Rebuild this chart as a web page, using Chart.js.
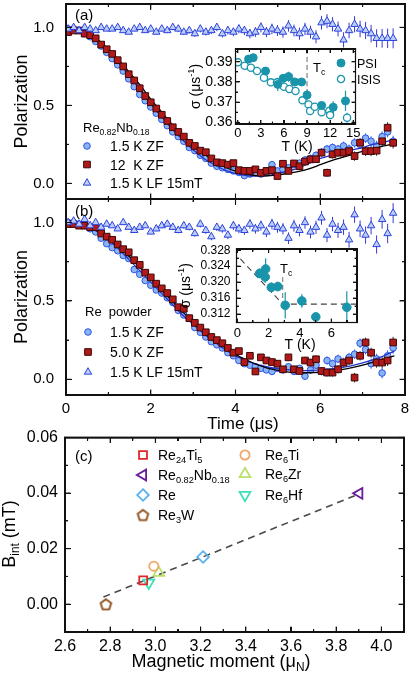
<!DOCTYPE html>
<html>
<head>
<meta charset="utf-8">
<script src="https://cdn.jsdelivr.net/npm/chart.js@4.4.1/dist/chart.umd.min.js"></script>
<style>
  body { margin: 0; background: #fff; width: 416px; height: 678px; position: relative; overflow: hidden; }
  canvas { position: absolute; }
  .fr { position: absolute; background: #111; z-index: 10; pointer-events: none; }
</style>
</head>
<body>
<canvas id="cA" width="416" height="200" style="left:0;top:0"></canvas>
<canvas id="cB" width="416" height="236" style="left:0;top:199px"></canvas>
<canvas id="cC" width="416" height="252" style="left:0;top:426px"></canvas>
<canvas id="cInA" width="225" height="109" style="left:170px;top:45px"></canvas>
<canvas id="cInB" width="190" height="108" style="left:170px;top:245px"></canvas>
<canvas id="frames" width="416" height="678" style="left:0;top:0;pointer-events:none"></canvas>
<script>
// ---- data ----
const timeBins = [0.05,0.18,0.31,0.44,0.57,0.70,0.83,0.96,1.09,1.22,
  1.35,1.48,1.61,1.74,1.87,2.00,2.13,2.26,2.39,2.52,
  2.65,2.78,2.91,3.04,3.17,3.30,3.43,3.56,3.69,3.82,
  3.95,4.08,4.21,4.34,4.47,4.60,4.73,4.86,4.99,5.12,
  5.25,5.38,5.51,5.64,5.77,5.90,6.03,6.16,6.29,6.42,
  6.55,6.68,6.81,6.94,7.07,7.20,7.33,7.46,7.59,7.72];

// panel (a) Re0.82Nb0.18
const polA_ZF15 = [0.99,0.99,0.98,0.96,0.94,0.91,0.88,0.84,0.80,0.76,
  0.72,0.67,0.62,0.57,0.53,0.49,0.45,0.41,0.37,0.33,
  0.30,0.27,0.23,0.21,0.18,0.16,0.13,0.11,0.10,0.09,
  0.08,0.07,0.05,0.06,0.07,0.06,0.08,0.12,0.08,0.09,
  0.10,0.12,0.13,0.15,0.16,0.18,0.20,0.22,0.23,0.22,
  0.24,0.22,0.26,0.25,0.29,0.27,0.24,0.30,0.33,0.27];
const polA_ZF12 = [0.97,0.98,0.98,0.96,0.95,0.93,0.89,0.86,0.83,0.79,
  0.75,0.70,0.66,0.61,0.56,0.52,0.48,0.44,0.40,0.36,
  0.33,0.30,0.26,0.24,0.21,0.20,0.16,0.135,0.13,0.12,
  0.13,0.085,0.08,0.08,0.09,0.068,0.08,0.085,0.047,0.126,
  0.08,0.128,0.11,0.14,0.154,0.155,0.197,0.068,0.186,0.197,
  0.197,0.207,0.175,0.261,0.207,0.207,0.21,0.27,0.357,0.26];
const polA_LF = [0.99,1.00,0.98,1.00,0.99,0.98,1.00,0.99,0.99,1.00,
  0.98,0.97,0.99,1.00,0.98,0.99,0.97,0.99,0.98,1.00,
  0.99,0.97,0.98,0.96,0.99,0.97,0.98,1.00,0.96,0.98,
  0.97,0.99,0.98,0.96,0.97,1.00,0.97,0.99,0.98,0.97,
  1.01,0.98,0.96,0.99,0.97,0.94,1.03,1.04,1.02,0.99,
  0.92,0.98,1.02,0.99,0.98,0.96,0.93,0.93,0.93,0.93];

// panel (b) Re powder
const polB_ZF15 = [1.00,1.00,0.99,0.98,0.96,0.94,0.90,0.865,0.84,0.82,
  0.79,0.77,0.70,0.67,0.63,0.60,0.57,0.55,0.52,0.49,
  0.44,0.41,0.39,0.33,0.30,0.27,0.24,0.22,0.20,0.17,
  0.15,0.12,0.10,0.09,0.08,0.07,0.06,0.05,0.07,0.06,
  0.08,0.05,0.07,0.02,0.06,0.09,0.05,0.12,0.10,0.13,
  0.11,0.14,0.16,0.23,0.19,0.10,0.13,0.04,0.15,0.20];
const polB_ZF5 = [0.99,0.99,0.98,0.98,0.97,0.97,0.93,0.91,0.89,0.86,
  0.83,0.81,0.76,0.73,0.68,0.65,0.61,0.58,0.55,0.51,
  0.46,0.45,0.39,0.36,0.33,0.30,0.27,0.25,0.23,0.20,
  0.17,0.18,0.11,0.15,0.05,0.14,0.12,0.11,0.10,0.064,
  0.14,0.064,0.053,0.12,0.107,0.128,0.053,0.043,0.043,0.064,
  0.107,0.12,0.011,0.15,0.235,0.17,0.107,0.107,0.12,0.235];
const polB_LF = [1.00,1.01,0.99,1.02,0.98,1.00,0.97,0.99,0.98,0.96,
  1.00,0.97,0.95,0.97,0.98,0.94,0.96,0.98,0.99,0.97,
  0.95,0.98,0.97,0.93,0.99,0.95,0.91,0.97,0.96,0.92,
  0.98,0.96,0.95,0.99,0.96,0.98,0.94,0.99,0.97,0.96,
  0.90,0.98,0.95,1.00,0.94,0.97,1.03,0.92,0.99,0.95,
  0.97,0.89,1.05,0.96,0.92,0.98,0.86,1.02,0.93,1.06];

const errZF = [0.006,0.006,0.006,0.006,0.006,0.007,0.007,0.007,0.008,0.008,
  0.008,0.009,0.009,0.009,0.010,0.010,0.010,0.011,0.011,0.011,
  0.012,0.012,0.012,0.013,0.013,0.014,0.014,0.015,0.015,0.016,
  0.016,0.017,0.017,0.018,0.018,0.019,0.019,0.020,0.020,0.021,
  0.021,0.022,0.022,0.023,0.024,0.024,0.025,0.026,0.026,0.027,
  0.028,0.029,0.030,0.030,0.031,0.032,0.033,0.034,0.035,0.036];
const errLF = [0.008,0.008,0.009,0.009,0.010,0.010,0.011,0.011,0.012,0.012,
  0.013,0.013,0.014,0.014,0.015,0.015,0.016,0.017,0.017,0.018,
  0.019,0.019,0.020,0.021,0.022,0.022,0.023,0.024,0.025,0.026,
  0.027,0.028,0.029,0.030,0.031,0.032,0.033,0.034,0.035,0.036,
  0.037,0.038,0.039,0.040,0.041,0.042,0.044,0.045,0.046,0.048,
  0.049,0.050,0.052,0.053,0.055,0.056,0.058,0.060,0.062,0.064];

// fit curves
const fitTime = [0,0.25,0.5,0.75,1,1.25,1.5,1.75,2,2.25,2.5,2.75,3,3.25,3.5,3.75,
  4,4.25,4.5,4.75,5,5.25,5.5,5.75,6,6.25,6.5,6.75,7,7.25,7.5,7.75];
const fitA_12K = [1.0,0.99,0.965,0.92,0.86,0.79,0.71,0.63,0.54,0.46,0.38,0.31,0.245,0.19,0.145,0.105,
  0.078,0.06,0.05,0.048,0.055,0.065,0.077,0.095,0.12,0.145,0.165,0.185,0.205,0.222,0.24,0.255];
const fitA_15K = [1.0,0.99,0.96,0.91,0.845,0.77,0.69,0.60,0.51,0.43,0.35,0.28,0.215,0.16,0.12,0.085,
  0.062,0.05,0.046,0.05,0.065,0.08,0.10,0.13,0.16,0.18,0.20,0.215,0.23,0.25,0.265,0.28];
const fitB_15K = [1.0,0.995,0.975,0.94,0.89,0.83,0.76,0.69,0.62,0.55,0.48,0.41,0.35,0.29,0.24,0.19,
  0.15,0.12,0.095,0.08,0.068,0.06,0.055,0.055,0.06,0.066,0.075,0.088,0.105,0.125,0.15,0.18];
const fitB_5K = [1.0,0.995,0.978,0.945,0.90,0.845,0.78,0.71,0.64,0.57,0.50,0.43,0.37,0.31,0.255,0.205,
  0.16,0.125,0.095,0.072,0.057,0.046,0.042,0.042,0.045,0.052,0.062,0.075,0.09,0.11,0.13,0.15];

// inset (a): sigma vs T
const psiT = [1.4,2.0,3.6,5.2,5.9,6.6,7.4,8.3,9.0,10.9,12.4,14.0];
const psiSigma = [0.3913,0.392,0.3854,0.3788,0.3818,0.3826,0.380,0.380,0.3735,0.3684,0.3675,0.3706];
const psiErr = [0.0015,0.0015,0.002,0.0033,0.002,0.0025,0.0015,0.0015,0.0025,0.0015,0.003,0.005];
const isisT = [0,0.9,1.7,2.5,3.4,4.3,5.1,6.0,6.7,7.5,8.4,9.2,9.4,10.0,10.9,11.9,12.0,14.2];
const isisSigma = [0.3897,0.388,0.387,0.3854,0.3821,0.3798,0.3798,0.3776,0.3765,0.3755,0.3709,
  0.3689,0.3656,0.3677,0.365,0.3657,0.3636,0.3623];
const isisErr = [0.0008,0.0008,0.0008,0.0008,0.001,0.001,0.001,0.001,0.001,0.001,0.001,
  0.0012,0.0012,0.0012,0.0015,0.0015,0.002,0.0025];
const tcLineA_T = [9, 9];
const tcLineA_S = [0.3963, 0.3755];

// inset (b)
const reT = [1.43,1.81,1.78,2.17,2.59,3.06,4.12,5.01,6.99];
const reSigma = [0.3222,0.3233,0.3213,0.3187,0.3189,0.3142,0.3153,0.3113,0.3137];
const reErr = [0.0012,0.0027,0.0015,0.0012,0.0012,0.0033,0.0017,0.001,0.004];
const guideB_T = [0.2, 2.9, 7.6];
const guideB_S = [0.3258, 0.3145, 0.3145];
const tcLineB_T = [2.9, 2.9];
const tcLineB_S = [0.3213, 0.3145];

// panel (c)
const compounds = ['Re24Ti5','Re0.82Nb0.18','Re','Re3W','Re6Ti','Re6Zr','Re6Hf'];
const moments = [2.946, 3.902, 3.211, 2.781, 2.993, 3.015, 2.971];
const bint = [0.0086, 0.0399, 0.0170, 0.0000, 0.0137, 0.0113, 0.0077];
const trendX = [2.77, 3.89];
const trendY = [0.0026, 0.0393];

// tick values
const timeTicks = [0,2,4,6,8], timeMinor = [1,3,5,7];
const polTicks = [0,0.5,1.0], polMinor = [0.25,0.75];
const tempTicksA = [0,3,6,9,12,15], tempMinorA = [1.5,4.5,7.5,10.5,13.5];
const sigTicksA = [0.36,0.37,0.38,0.39], sigMinorA = [0.365,0.375,0.385,0.395];
const tempTicksB = [0,2,4,6], tempMinorB = [1,3,5,7];
const sigTicksB = [0.312,0.316,0.320,0.324,0.328], sigMinorB = [0.314,0.318,0.322,0.326];
const momTicks = [2.6,2.8,3.0,3.2,3.4,3.6,3.8,4.0], momMinor = [2.7,2.9,3.1,3.3,3.5,3.7,3.9,4.1];
const bTicks = [0,0.02,0.04,0.06], bMinor = [-0.01,0.01,0.03,0.05];

// ---- helpers ----
const FONT = '"Liberation Sans", Arial, Helvetica, sans-serif';
Chart.defaults.font.family = FONT;
Chart.defaults.color = '#000';

const pts = (xs, ys) => xs.map((x, i) => ({x, y: ys[i]}));

function pentagon(color, r, lw) {
  const c = document.createElement('canvas');
  const s = Math.ceil(2 * r + lw + 2);
  c.width = s; c.height = s;
  const g = c.getContext('2d');
  g.translate(s / 2, s / 2 + 0.5);
  g.beginPath();
  for (let k = 0; k < 5; k++) {
    const a = -Math.PI / 2 + k * 2 * Math.PI / 5;
    k ? g.lineTo(r * Math.cos(a), r * Math.sin(a)) : g.moveTo(r * Math.cos(a), r * Math.sin(a));
  }
  g.closePath();
  g.lineWidth = lw; g.strokeStyle = color; g.stroke();
  return c;
}

function drawMarker(ctx, s, x, y) {
  const r = s.pointRadius, st = s.pointStyle;
  ctx.save();
  if (typeof st !== 'string') {
    ctx.drawImage(st, x - st.width / 2, y - st.height / 2);
    ctx.restore();
    return;
  }
  ctx.translate(x, y);
  ctx.rotate((s.pointRotation || 0) * Math.PI / 180);
  ctx.beginPath();
  if (st === 'circle') ctx.arc(0, 0, r, 0, 2 * Math.PI);
  else if (st === 'rect') { const h = r * Math.SQRT1_2; ctx.rect(-h, -h, 2 * h, 2 * h); }
  else if (st === 'rectRot') { ctx.moveTo(0, -r); ctx.lineTo(r, 0); ctx.lineTo(0, r); ctx.lineTo(-r, 0); ctx.closePath(); }
  else if (st === 'triangle') {
    for (let k = 0; k < 3; k++) {
      const a = k * 2 * Math.PI / 3;
      k ? ctx.lineTo(Math.sin(a) * r, -Math.cos(a) * r) : ctx.moveTo(Math.sin(a) * r, -Math.cos(a) * r);
    }
    ctx.closePath();
  }
  if (s.pointBackgroundColor && s.pointBackgroundColor !== 'transparent') {
    ctx.fillStyle = s.pointBackgroundColor; ctx.fill();
  }
  ctx.lineWidth = s.pointBorderWidth; ctx.strokeStyle = s.pointBorderColor; ctx.stroke();
  ctx.restore();
}

// text with sub (1) / superscript (2) pieces
function drawRich(ctx, t) {
  ctx.save();
  ctx.translate(t.x, t.y);
  if (t.rot) ctx.rotate(t.rot * Math.PI / 180);
  ctx.fillStyle = '#000';
  ctx.textBaseline = 'alphabetic';
  ctx.textAlign = 'left';
  const pieces = t.parts.map(([s, m]) => {
    const fs = m ? t.size * 0.66 : t.size;
    ctx.font = fs + 'px ' + FONT;
    return {s, m, fs, w: ctx.measureText(s).width};
  });
  const total = pieces.reduce((a, p) => a + p.w, 0);
  let cx = t.align === 'center' ? -total / 2 : 0;
  pieces.forEach(p => {
    ctx.font = p.fs + 'px ' + FONT;
    const dy = p.m === 1 ? t.size * 0.22 : p.m === 2 ? -t.size * 0.42 : 0;
    ctx.fillText(p.s, cx, dy);
    cx += p.w;
  });
  ctx.restore();
}

const decorCfg = {};
const decor = {
  id: 'decor',
  beforeDatasetsDraw(chart) {
    const o = decorCfg[chart.canvas.id];
    if (!o) return;
    const {ctx, chartArea: a} = chart;
    const xs = chart.scales.x, ys = chart.scales.y;
    ctx.save();
    if (o.white) {
      ctx.fillStyle = '#fff';
      ctx.fillRect(a.left, a.top, a.right - a.left, a.bottom - a.top);
    }
    ctx.beginPath();
    ctx.rect(a.left, a.top, a.right - a.left, a.bottom - a.top);
    ctx.clip();
    chart.data.datasets.forEach(ds => {
      if (!ds.err) return;
      ctx.strokeStyle = ds.errColor;
      ctx.lineWidth = ds.errWidth || 1;
      ds.data.forEach((p, j) => {
        const px = xs.getPixelForValue(p.x);
        ctx.beginPath();
        ctx.moveTo(px, ys.getPixelForValue(p.y - ds.err[j]));
        ctx.lineTo(px, ys.getPixelForValue(p.y + ds.err[j]));
        ctx.stroke();
      });
    });
    ctx.restore();
  },
  afterDraw(chart) {
    const o = decorCfg[chart.canvas.id];
    if (!o) return;
    const {ctx} = chart;
    ctx.save();
    (o.markers || []).forEach(m => drawMarker(ctx, m.st, m.x, m.y));
    (o.texts || []).forEach(tx => drawRich(ctx, tx));
    ctx.restore();
  }
};

// frame with inward ticks from each chart's scales
function frameRects(chart, offX, offY, o) {
  const xs = chart.scales.x, ys = chart.scales.y;
  const L = offX + xs.getPixelForValue(o.xr[0]), R = offX + xs.getPixelForValue(o.xr[1]);
  const T = offY + ys.getPixelForValue(o.yr[1]), B = offY + ys.getPixelForValue(o.yr[0]);
  const w = o.frameWidth, h = w / 2, tw = 1.1, th = tw / 2;
  const out = [
    [L - h, T - h, R - L + w, w], [L - h, B - h, R - L + w, w],
    [L - h, T - h, w, B - T + w], [R - h, T - h, w, B - T + w]
  ];
  const t = o.ticks;
  [[t.xMaj, o.tl[0]], [t.xMin, o.tl[1]]].forEach(([vals, len]) => vals.forEach(v => {
    const px = offX + xs.getPixelForValue(v);
    out.push([px - th, B - len, tw, len], [px - th, T, tw, len]);
  }));
  [[t.yMaj, o.tl[0]], [t.yMin, o.tl[1]]].forEach(([vals, len]) => vals.forEach(v => {
    const py = offY + ys.getPixelForValue(v);
    out.push([L, py - th, len, tw], [R - len, py - th, len, tw]);
  }));
  return out;
}

// outline of the plotting box as a Chart.js line through the axis limits
const boxDs = (xr, yr) => ({
  data: pts([xr[0], xr[1], xr[1], xr[0], xr[0]], [yr[0], yr[0], yr[1], yr[1], yr[0]]),
  showLine: true, borderColor: '#111', borderWidth: 1.4, pointRadius: 0,
  tension: 0, cubicInterpolationMode: 'default', clip: false, order: 0
});

// fixed axis box size, no extra label padding
const boxFit = f => ax => {
  f(ax);
  ax.paddingTop = 0; ax.paddingBottom = 0; ax.paddingLeft = 0; ax.paddingRight = 0;
};
const BORDER = {display: true, color: '#111', width: 1.4};
function linAxis(min, max, majors, digits, size, pad, fit, border) {
  return {
    type: 'linear', min, max,
    grid: {display: false, drawTicks: false}, border: border || {display: false},
    afterBuildTicks: ax => { ax.ticks = majors.map(v => ({value: v})); },
    afterFit: boxFit(fit),
    ticks: {font: {size}, color: '#000', padding: pad, autoSkip: false, maxRotation: 0,
      callback: v => v.toFixed(digits)}
  };
}
function edgeAxis(min, max, position, border) {
  const horiz = position === 'top' || position === 'bottom';
  return {type: 'linear', min, max, position, grid: {display: false, drawTicks: false},
    border: border || {display: false}, ticks: {display: false},
    afterFit: boxFit(ax => { if (horiz) ax.height = 0; else ax.width = 0; })};
}
function baseOptions(padding, scales) {
  return {
    responsive: false, animation: false, devicePixelRatio: 1, events: [],
    layout: {padding, autoPadding: false},
    plugins: {legend: {display: false}, tooltip: {enabled: false}},
    scales
  };
}

// marker styles
const stCircle = {pointStyle: 'circle', pointRadius: 3.3, pointBackgroundColor: '#8ab3f4', pointBorderColor: '#2b55e4', pointBorderWidth: 1};
const stSquare = {pointStyle: 'rect', pointRadius: 4.7, pointBackgroundColor: '#b21a1a', pointBorderColor: '#3d0606', pointBorderWidth: 1};
const stTri = {pointStyle: 'triangle', pointRadius: 4.3, pointBackgroundColor: '#bccdf7', pointBorderColor: '#2c43dc', pointBorderWidth: 1};
const TEAL = '#1994ab';
const stPSI = {pointStyle: 'circle', pointRadius: 4, pointBackgroundColor: TEAL, pointBorderColor: TEAL, pointBorderWidth: 1};
const stISIS = {pointStyle: 'circle', pointRadius: 3.6, pointBackgroundColor: '#fff', pointBorderColor: TEAL, pointBorderWidth: 1.3};
const stReB = {pointStyle: 'circle', pointRadius: 4.3, pointBackgroundColor: TEAL, pointBorderColor: TEAL, pointBorderWidth: 1};

const lineDs = (xs, ys, color, width, dash) => ({
  data: pts(xs, ys), showLine: true, borderColor: color, borderWidth: width,
  borderDash: dash || [], pointRadius: 0, cubicInterpolationMode: 'monotone', fill: false
});

function muonPanel(zf1, zf2, lf, fit1, fit2) {
  return [
    boxDs([0, 8], polRange),
    Object.assign({data: pts(timeBins, lf), err: errLF, errColor: '#3838d0', order: 1}, stTri),
    Object.assign({data: pts(timeBins, zf2), err: errZF, errColor: '#222', order: 2}, stSquare),
    Object.assign(lineDs(fitTime, fit1, '#000', 1.3), {order: 3}),
    Object.assign(lineDs(fitTime, fit2, '#2233cc', 1.3), {order: 3}),
    Object.assign({data: pts(timeBins, zf1), err: errZF, errColor: '#2e55e0', order: 4}, stCircle)
  ];
}

const frameList = [];
const polRange = [-0.1, 1.15];

// ---- panel (a) ----
decorCfg.cA = {
  markers: [{st: stCircle, x: 87, y: 146}, {st: stSquare, x: 87, y: 164.5}, {st: stTri, x: 87, y: 183}],
  texts: [
    {x: 75, y: 20, size: 15, parts: [['(a)', 0]]},
    {x: 83, y: 132, size: 13, parts: [['Re', 0], ['0.82', 1], ['Nb', 0], ['0.18', 1]]},
    {x: 110, y: 151, size: 14, parts: [['1.5 K ZF', 0]]},
    {x: 110, y: 169.5, size: 14, parts: [['12  K ZF', 0]]},
    {x: 110, y: 188, size: 14, parts: [['1.5 K LF 15mT', 0]]},
    {x: 26.5, y: 101.5, rot: -90, align: 'center', size: 18, parts: [['Polarization', 0]]}
  ]
};
const chartA = new Chart(document.getElementById('cA'), {
  type: 'scatter',
  data: {datasets: muonPanel(polA_ZF15, polA_ZF12, polA_LF, fitA_12K, fitA_15K)},
  options: baseOptions({top: 4, right: 11, bottom: 1, left: 0}, {
    x: edgeAxis(0, 8, 'bottom', BORDER),
    x2: edgeAxis(0, 8, 'top', BORDER),
    y: linAxis(polRange[0], polRange[1], polTicks, 1, 15, 12, ax => { ax.width = 66; }, BORDER),
    y2: edgeAxis(polRange[0], polRange[1], 'right', BORDER)
  }),
  plugins: [decor]
});
frameList.push({chart: chartA, x: 0, y: 0, o: {frameWidth: 1.4, tl: [5.5, 3], xr: [0, 8], yr: polRange,
  ticks: {xMaj: timeTicks, xMin: timeMinor, yMaj: polTicks, yMin: polMinor}}});

// ---- panel (b) ----
decorCfg.cB = {
  markers: [{st: stCircle, x: 88, y: 133}, {st: stSquare, x: 88, y: 153}, {st: stTri, x: 88, y: 173}],
  texts: [
    {x: 75, y: 16.5, size: 15, parts: [['(b)', 0]]},
    {x: 85, y: 117, size: 13, parts: [['Re  powder', 0]]},
    {x: 110, y: 138, size: 14, parts: [['1.5 K ZF', 0]]},
    {x: 110, y: 158, size: 14, parts: [['5.0 K ZF', 0]]},
    {x: 110, y: 178, size: 14, parts: [['1.5 K LF 15mT', 0]]},
    {x: 26.5, y: 98, rot: -90, align: 'center', size: 18, parts: [['Polarization', 0]]},
    {x: 243, y: 230, align: 'center', size: 17, parts: [['Time (μs)', 0]]}
  ]
};
const chartB = new Chart(document.getElementById('cB'), {
  type: 'scatter',
  data: {datasets: muonPanel(polB_ZF15, polB_ZF5, polB_LF, fitB_5K, fitB_15K)},
  options: baseOptions({top: 0, right: 11, bottom: 0, left: 0}, {
    x: linAxis(0, 8, timeTicks, 0, 15, 5, ax => { ax.height = 40; }, BORDER),
    x2: edgeAxis(0, 8, 'top', BORDER),
    y: linAxis(polRange[0], polRange[1], polTicks, 1, 15, 12, ax => { ax.width = 66; }, BORDER),
    y2: edgeAxis(polRange[0], polRange[1], 'right', BORDER)
  }),
  plugins: [decor]
});
frameList.push({chart: chartB, x: 0, y: 199, o: {frameWidth: 1.4, tl: [5.5, 3], xr: [0, 8], yr: polRange,
  ticks: {xMaj: timeTicks, xMin: timeMinor, yMaj: polTicks, yMin: polMinor}}});

// ---- panel (c) ----
const cStyles = [
  {pointStyle: 'rect', pointRadius: 5.6, pointBackgroundColor: 'transparent', pointBorderColor: '#e0282a', pointBorderWidth: 1.8},
  {pointStyle: 'triangle', pointRotation: -90, pointRadius: 6.2, pointBackgroundColor: 'transparent', pointBorderColor: '#6a1b9a', pointBorderWidth: 1.8},
  {pointStyle: 'rectRot', pointRadius: 5.8, pointBackgroundColor: 'transparent', pointBorderColor: '#5ab4ec', pointBorderWidth: 1.8},
  {pointStyle: pentagon('#8a4a12', 5.6, 1.8), pointRadius: 6, pointBackgroundColor: 'transparent', pointBorderColor: '#8a4a12', pointBorderWidth: 1.8},
  {pointStyle: 'circle', pointRadius: 4.6, pointBackgroundColor: 'transparent', pointBorderColor: '#f0a86a', pointBorderWidth: 1.8},
  {pointStyle: 'triangle', pointRadius: 6.2, pointBackgroundColor: 'transparent', pointBorderColor: '#b8e06a', pointBorderWidth: 1.8},
  {pointStyle: 'triangle', pointRotation: 180, pointRadius: 6.2, pointBackgroundColor: 'transparent', pointBorderColor: '#3fe0b8', pointBorderWidth: 1.8}
];
const cLegendParts = [
  [['Re', 0], ['24', 1], ['Ti', 0], ['5', 1]],
  [['Re', 0], ['0.82', 1], ['Nb', 0], ['0.18', 1]],
  [['Re', 0]],
  [['Re', 0], ['3', 1], ['W', 0]],
  [['Re', 0], ['6', 1], ['Ti', 0]],
  [['Re', 0], ['6', 1], ['Zr', 0]],
  [['Re', 0], ['6', 1], ['Hf', 0]]
];
const cLegendPos = [[143, 29], [143, 49], [143, 69], [143, 89], [245, 29], [245, 48], [245, 69]];
decorCfg.cC = {
  markers: cStyles.map((st, i) => ({st, x: cLegendPos[i][0], y: cLegendPos[i][1]})),
  texts: [
    {x: 75, y: 34.5, size: 15, parts: [['(c)', 0]]},
    ...cLegendParts.map((parts, i) => ({x: cLegendPos[i][0] + (i < 4 ? 15 : 20), y: cLegendPos[i][1] + 5, size: 14, parts})),
    {x: 15, y: 108, rot: -90, align: 'center', size: 18, parts: [['B', 0], ['int', 1], [' (mT)', 0]]},
    {x: 221, y: 241, align: 'center', size: 18, parts: [['Magnetic moment (μ', 0], ['N', 1], [')', 0]]}
  ]
};
const chartC = new Chart(document.getElementById('cC'), {
  type: 'scatter',
  data: {datasets: [
    boxDs([2.6, 4.1], [-0.01, 0.06]),
    ...compounds.map((name, i) => Object.assign({label: name, data: [{x: moments[i], y: bint[i]}], order: 1}, cStyles[i])),
    Object.assign(lineDs(trendX, trendY, '#4a4a4a', 1.6, [7, 5]), {order: 2})
  ]},
  options: baseOptions({top: 11.5, right: 12, bottom: 0, left: 0}, {
    x: linAxis(2.6, 4.1, momTicks, 1, 16, 5, ax => { ax.height = 46; }, BORDER),
    x2: edgeAxis(2.6, 4.1, 'top', BORDER),
    y: linAxis(-0.01, 0.06, bTicks, 2, 16, 7, ax => { ax.width = 65; }, BORDER),
    y2: edgeAxis(-0.01, 0.06, 'right', BORDER)
  }),
  plugins: [decor]
});
frameList.push({chart: chartC, x: 0, y: 426, o: {frameWidth: 1.4, tl: [5.5, 3], xr: [2.6, 4.1], yr: [-0.01, 0.06],
  ticks: {xMaj: momTicks, xMin: momMinor, yMaj: bTicks, yMin: bMinor}}});

// ---- inset (a) ----
decorCfg.cInA = {
  white: true,
  markers: [{st: stPSI, x: 171, y: 18}, {st: stISIS, x: 171, y: 34}],
  texts: [
    {x: 143, y: 27, size: 13, parts: [['T', 0], ['c', 1]]},
    {x: 187, y: 23, size: 12.5, parts: [['PSI', 0]]},
    {x: 187, y: 39, size: 12.5, parts: [['ISIS', 0]]},
    {x: 30, y: 41.5, rot: -90, align: 'center', size: 14, parts: [['σ (μs', 0], ['-1', 2], [')', 0]]},
    {x: 127, y: 106, align: 'center', size: 14, parts: [['T (K)', 0]]}
  ]
};
const chartInA = new Chart(document.getElementById('cInA'), {
  type: 'scatter',
  data: {datasets: [
    Object.assign({data: pts(psiT, psiSigma), err: psiErr, errColor: TEAL, errWidth: 1.2, order: 1}, stPSI),
    Object.assign({data: pts(isisT, isisSigma), err: isisErr, errColor: TEAL, errWidth: 1.2, order: 2}, stISIS),
    Object.assign(lineDs(tcLineA_T, tcLineA_S, '#666', 1, [5, 3]), {order: 3})
  ]},
  options: baseOptions({top: 4, right: 39.5, bottom: 0, left: 0}, {
    x: linAxis(-0.3, 15.3, tempTicksA, 0, 13, 2, ax => { ax.height = 30; }),
    y: linAxis(0.3592, 0.3963, sigTicksA, 2, 14, 3, ax => { ax.width = 65.5; })
  }),
  plugins: [decor]
});
frameList.push({chart: chartInA, x: 170, y: 45, o: {frameWidth: 1.2, tl: [4, 2.5], xr: [-0.3, 15.3], yr: [0.3592, 0.3963],
  ticks: {xMaj: tempTicksA, xMin: tempMinorA, yMaj: sigTicksA, yMin: sigMinorA}}});

// ---- inset (b) ----
decorCfg.cInB = {
  white: true,
  texts: [
    {x: 110, y: 28, size: 13, parts: [['T', 0], ['c', 1]]},
    {x: 20, y: 40.75, rot: -90, align: 'center', size: 14, parts: [['σ (μs', 0], ['-1', 2], [')', 0]]},
    {x: 130, y: 104, align: 'center', size: 14, parts: [['T (K)', 0]]}
  ]
};
const chartInB = new Chart(document.getElementById('cInB'), {
  type: 'scatter',
  data: {datasets: [
    Object.assign({data: pts(reT, reSigma), err: reErr, errColor: TEAL, errWidth: 1.2, order: 1}, stReB),
    Object.assign(lineDs(guideB_T, guideB_S, '#444', 1.1, [6, 4]), {order: 2, cubicInterpolationMode: 'default', tension: 0}),
    Object.assign(lineDs(tcLineB_T, tcLineB_S, '#666', 1, [5, 3]), {order: 2})
  ]},
  options: baseOptions({top: 4, right: 3, bottom: 0, left: 0}, {
    x: linAxis(-0.05, 7.64, tempTicksB, 0, 13, 3, ax => { ax.height = 30.5; }),
    y: linAxis(0.3099, 0.3283, sigTicksB, 3, 12, 6, ax => { ax.width = 66.5; })
  }),
  plugins: [decor]
});
frameList.push({chart: chartInB, x: 170, y: 245, o: {frameWidth: 1.2, tl: [4, 2.5], xr: [-0.05, 7.64], yr: [0.3099, 0.3283],
  ticks: {xMaj: tempTicksB, xMin: tempMinorB, yMaj: sigTicksB, yMin: sigMinorB}}});

// frames last: on the top canvas and as page boxes above everything
const fctx = document.getElementById('frames').getContext('2d');
fctx.fillStyle = '#111';
frameList.forEach(f => {
  frameRects(f.chart, f.x, f.y, f.o).forEach(([x, y, w, h]) => {
    fctx.fillRect(x, y, w, h);
    const d = document.createElement('div');
    d.className = 'fr';
    d.style.left = x + 'px'; d.style.top = y + 'px';
    d.style.width = w + 'px'; d.style.height = h + 'px';
    document.body.appendChild(d);
  });
});
</script>
</body>
</html>
